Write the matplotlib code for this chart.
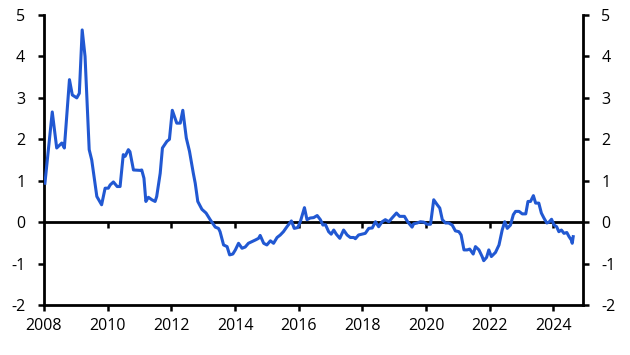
import matplotlib
matplotlib.use("Agg")
import matplotlib.pyplot as plt
from matplotlib.markers import TICKDOWN

plt.rcParams['font.family'] = ['Open Sans', 'DejaVu Sans']
plt.rcParams['axes.unicode_minus'] = False

# decimal year / value pairs
years = [
    2008.03, 2008.26, 2008.40, 2008.56, 2008.64, 2008.80, 2008.89, 2009.03, 2009.11, 2009.20,
    2009.29, 2009.42, 2009.50, 2009.66, 2009.81, 2009.92, 2010.02, 2010.08, 2010.18, 2010.30,
    2010.39, 2010.49, 2010.55, 2010.65, 2010.70, 2010.81, 2011.02, 2011.07, 2011.14, 2011.20,
    2011.28, 2011.39, 2011.49, 2011.54, 2011.65, 2011.72, 2011.86, 2011.94, 2012.03, 2012.17,
    2012.28, 2012.36, 2012.47, 2012.57, 2012.69, 2012.75, 2012.83, 2012.96, 2013.09, 2013.22,
    2013.38, 2013.48, 2013.53, 2013.64, 2013.75, 2013.83, 2013.93, 2014.01, 2014.11, 2014.22,
    2014.32, 2014.42, 2014.53, 2014.64, 2014.74, 2014.79, 2014.90, 2015.00, 2015.11, 2015.21,
    2015.32, 2015.42, 2015.52, 2015.63, 2015.77, 2015.86, 2015.97, 2016.05, 2016.18, 2016.26,
    2016.36, 2016.47, 2016.58, 2016.68, 2016.76, 2016.84, 2016.94, 2017.02, 2017.10, 2017.18,
    2017.29, 2017.41, 2017.52, 2017.62, 2017.73, 2017.78, 2017.88, 2017.99, 2018.09, 2018.20,
    2018.31, 2018.41, 2018.51, 2018.62, 2018.72, 2018.83, 2018.93, 2019.07, 2019.17, 2019.32,
    2019.42, 2019.56, 2019.61, 2019.72, 2019.82, 2019.93, 2020.03, 2020.14, 2020.24, 2020.35,
    2020.43, 2020.51, 2020.61, 2020.71, 2020.82, 2020.92, 2021.03, 2021.10, 2021.19, 2021.29,
    2021.37, 2021.48, 2021.55, 2021.66, 2021.76, 2021.81, 2021.90, 2021.97, 2022.05, 2022.18,
    2022.29, 2022.39, 2022.47, 2022.55, 2022.65, 2022.74, 2022.81, 2022.92, 2023.02, 2023.13,
    2023.20, 2023.28, 2023.37, 2023.44, 2023.54, 2023.62, 2023.70, 2023.79, 2023.86, 2023.94,
    2024.02, 2024.10, 2024.17, 2024.25, 2024.33, 2024.42, 2024.49, 2024.56, 2024.59, 2024.62,
]
values = [
    0.94, 2.66, 1.79, 1.91, 1.79, 3.44, 3.07, 3.00, 3.11, 4.64,
    4.00, 1.75, 1.50, 0.62, 0.42, 0.82, 0.82, 0.90, 0.97, 0.86,
    0.86, 1.63, 1.59, 1.75, 1.70, 1.26, 1.25, 1.26, 1.06, 0.50,
    0.60, 0.54, 0.50, 0.62, 1.18, 1.79, 1.95, 2.00, 2.70, 2.39,
    2.39, 2.70, 2.03, 1.71, 1.18, 0.94, 0.50, 0.31, 0.22, 0.06,
    -0.12, -0.15, -0.23, -0.55, -0.59, -0.79, -0.77, -0.67, -0.51, -0.63,
    -0.60, -0.51, -0.47, -0.43, -0.39, -0.32, -0.51, -0.55, -0.45, -0.51,
    -0.37, -0.31, -0.23, -0.11, 0.03, -0.15, -0.13, 0.01, 0.35, 0.06,
    0.10, 0.11, 0.16, 0.06, -0.07, -0.06, -0.23, -0.29, -0.19, -0.29,
    -0.39, -0.19, -0.31, -0.37, -0.37, -0.40, -0.31, -0.29, -0.27, -0.15,
    -0.14, 0.01, -0.11, 0.01, 0.06, 0.01, 0.10, 0.22, 0.14, 0.14,
    0.01, -0.12, -0.04, -0.02, 0.01, 0.00, -0.05, -0.05, 0.54, 0.42,
    0.34, 0.06, -0.02, -0.02, -0.07, -0.21, -0.23, -0.31, -0.67, -0.67,
    -0.65, -0.77, -0.59, -0.67, -0.83, -0.93, -0.85, -0.67, -0.83, -0.73,
    -0.55, -0.19, 0.01, -0.15, -0.07, 0.18, 0.26, 0.26, 0.20, 0.20,
    0.50, 0.50, 0.64, 0.46, 0.46, 0.22, 0.10, -0.02, 0.00, 0.07,
    -0.07, -0.11, -0.23, -0.19, -0.27, -0.25, -0.35, -0.43, -0.51, -0.35,
]
xticks = [2008, 2010, 2012, 2014, 2016, 2018, 2020, 2022, 2024]
yticks = [-2, -1, 0, 1, 2, 3, 4, 5]

fig = plt.figure(figsize=(6.3, 3.55), dpi=100)
ax = fig.add_axes([0.0698, 0.1408, 0.8552, 0.8169])

ax.axhline(0, color='black', lw=2.0, zorder=2)
ax.plot(xticks[1:], [0] * (len(xticks) - 1), ls='none', marker=TICKDOWN,
        ms=4, mew=1.8, color='black', zorder=2)
ax.plot(years, values, color='#2158d2', lw=2.2, zorder=3, solid_joinstyle='round')

ax.set_xlim(2008, 2024.92)
ax.set_ylim(-2, 5)
ax.set_xticks(xticks)
ax.set_yticks(yticks)

for s in ['left', 'right', 'bottom']:
    ax.spines[s].set_linewidth(2.0)
ax.spines['top'].set_visible(False)

ax.tick_params(axis='both', direction='out', length=4.5, width=1.8,
               labelsize=11.5, colors='black')
ax.tick_params(axis='y', left=True, right=True, labelleft=True, labelright=True, pad=9)
ax.tick_params(axis='x', pad=5)

fig.savefig('out.png', dpi=100)
